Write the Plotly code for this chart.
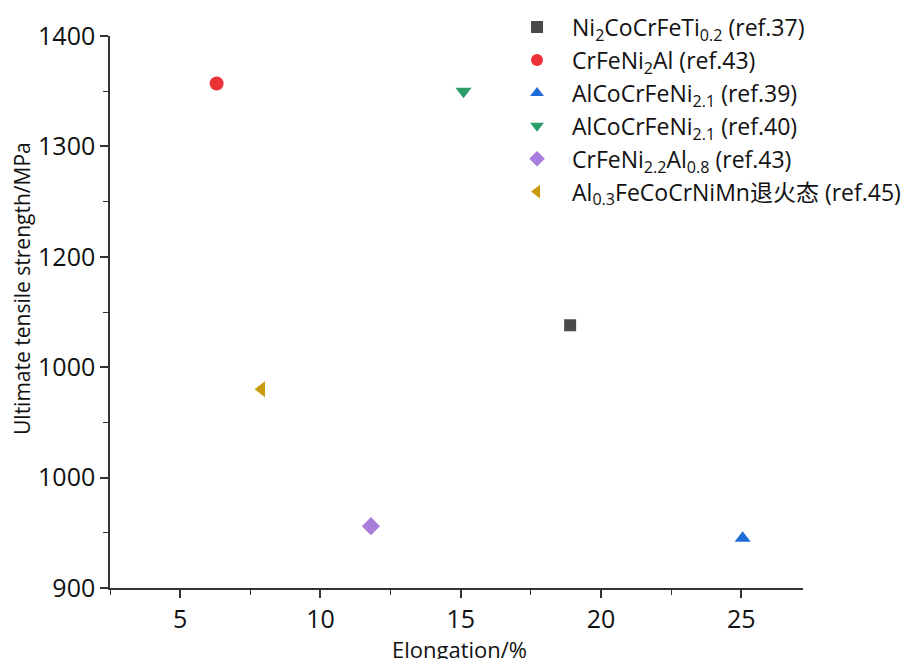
import plotly.graph_objects as go

names = [
    "Ni<sub>2</sub>CoCrFeTi<sub>0.2</sub> (ref.37)",
    "CrFeNi<sub>2</sub>Al (ref.43)",
    "AlCoCrFeNi<sub>2.1</sub> (ref.39)",
    "AlCoCrFeNi<sub>2.1</sub> (ref.40)",
    "CrFeNi<sub>2.2</sub>Al<sub>0.8</sub> (ref.43)",
    "Al<sub>0.3</sub>FeCoCrNiMn退火态 (ref.45)",
]
elongation = [18.9, 6.3, 25.05, 15.1, 11.8, 7.9]
strength = [1138, 1357, 945, 1350, 956, 1080]
symbols = ["square", "circle", "triangle-up", "triangle-down", "diamond", "triangle-left"]
colors = ["#4a4a4a", "#ec3236", "#1f6cd9", "#2a9d69", "#a97ddc", "#c99a0c"]
sizes = [12, 14, 14, 14, 14, 14]

y_tickvals = [900, 1000, 1100, 1200, 1300, 1400]
y_ticktext = ["900", "1000", "1000", "1200", "1300", "1400"]
x_tickvals = [5, 10, 15, 20, 25]
x_title = "Elongation/%"
y_title = "Ultimate tensile strength/MPa"

fig = go.Figure()
for n, x, y, s, c, sz in zip(names, elongation, strength, symbols, colors, sizes):
    fig.add_trace(go.Scatter(
        x=[x], y=[y], mode="markers", name=n,
        marker=dict(symbol=s, color=c, size=sz, line=dict(width=0)),
    ))

base = "Open Sans, Noto Sans CJK SC"
axis_font = dict(family=base, size=25, color="#111111")
fig.update_layout(
    width=917, height=659,
    paper_bgcolor="white", plot_bgcolor="white",
    margin=dict(l=102, r=122, t=28, b=79, autoexpand=False),
    font=dict(family=base, color="#111111"),
    showlegend=True,
    legend=dict(
        x=0.5657, y=1.055, xanchor="left", yanchor="top",
        font=dict(family=base, size=23, color="#111111"),
        bgcolor="rgba(0,0,0,0)", tracegroupgap=0, itemsizing="constant",
        itemwidth=60,
    ),
    xaxis=dict(
        range=[2.5, 27.2], tickvals=x_tickvals, ticks="outside", ticklen=8,
        tickwidth=1.5, tickcolor="#333333", showline=True, linecolor="#333333",
        linewidth=1.5, showgrid=False, zeroline=False, tickfont=axis_font,
        automargin=False,
        minor=dict(ticks="outside", ticklen=5, dtick=2.5, tick0=0, tickcolor="#333333", tickwidth=1.2),
    ),
    yaxis=dict(
        range=[900, 1400], tickvals=y_tickvals, ticktext=y_ticktext, ticks="outside",
        ticklen=8, tickwidth=1.5, tickcolor="#333333", showline=True,
        linecolor="#333333", linewidth=1.5, showgrid=False, zeroline=False,
        tickfont=axis_font, automargin=False, ticklabelstandoff=0,
        minor=dict(ticks="outside", ticklen=5, dtick=50, tick0=900, tickcolor="#333333", tickwidth=1.2),
    ),
    annotations=[
        dict(text=x_title, xref="paper", yref="paper", x=0.505, y=-0.08,
             xanchor="center", yanchor="top", showarrow=False,
             font=dict(family=base, size=22, color="#111111")),
        dict(text=y_title, xref="paper", yref="paper", x=-0.127, y=0.5435,
             xanchor="center", yanchor="middle", textangle=-90, showarrow=False,
             font=dict(family=base, size=21, color="#111111")),
    ],
)

fig.write_html("out.html")
